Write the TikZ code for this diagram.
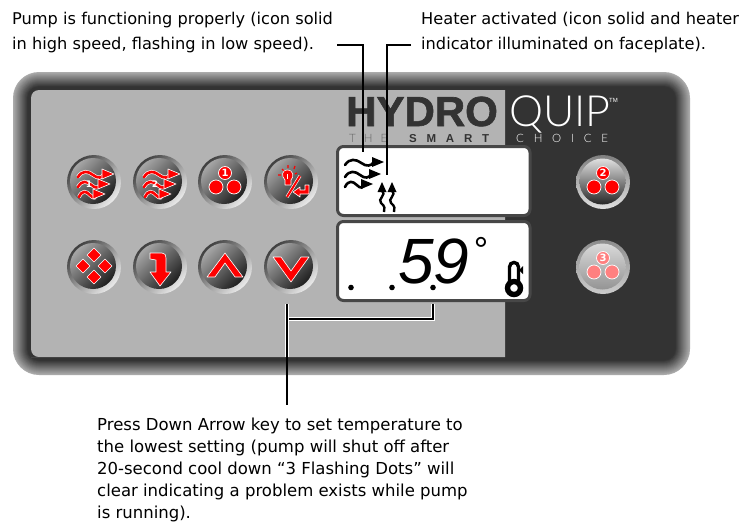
\documentclass[tikz,border=0pt]{standalone}
\usepackage{fontspec}
\setmainfont{DejaVu Sans}
\newfontfamily\logofont{Liberation Sans}
\newfontfamily\thinfont{Lato Light}
\newfontfamily\lcdfont{Liberation Sans}
\definecolor{paneldark}{HTML}{333333}
\definecolor{panelgrey}{HTML}{B3B3B3}
\definecolor{bandgrey}{HTML}{ABABAB}
\definecolor{iconred}{HTML}{FF0000}
\definecolor{iconpale}{HTML}{FF8080}
\tikzset{
  caption/.style={inner sep=0pt, anchor=north west, align=left, font=\fontsize{16.2}{22}\selectfont},
  callout/.style={draw=black, line width=2.8},
  calloutlit/.style={callout, preaction={draw=white, line width=4.4}},
  lcdbox/.style={draw=paneldark!90!white, fill=white, line width=3, rounded corners=6},
  btnring/.style={circle, inner sep=0pt, minimum size=54, shading=axis, top color=black!75, bottom color=black!8, shading angle=45},
  btnface/.style={circle, inner sep=0pt, minimum size=46, shading=axis, top color=black!35, middle color=black!35, bottom color=black!88, shading angle=45},
  redicon/.style={fill=iconred, draw=white, line width=.6, line join=round},
  wavestroke/.style={draw=black, line width=2.6, line cap=round},
  wavehead/.style={fill=black},
}
\newcommand{\wavearrow}[3]{%
  \path[wavestroke] (#1,#2+3) .. controls ({#1+.12*#3},#2-4) and ({#1+.28*#3},#2-3) .. ({#1+.42*#3},#2+1)
    .. controls ({#1+.55*#3},#2+5) and ({#1+.68*#3},#2+4) .. ({#1+#3-10},#2);
  \path[wavehead] ({#1+#3-12},#2-5) -- ({#1+#3},#2) -- ({#1+#3-12},#2+5) -- cycle;
}
\newcommand{\threedots}[3]{%
  \fill[#2, draw=white, line width=.7] (0,-9) circle (6.5);
  \fill[#2, draw=white, line width=.7] (-9,5) circle (7);
  \fill[#2, draw=white, line width=.7] (9,5) circle (7);
  \node[inner sep=0pt, text=#3, font=\fontsize{10}{10}\selectfont\bfseries] at (0,-9) {#1};
}
\begin{document}
\begin{tikzpicture}[x=1pt, y=-1pt]
  \useasboundingbox (0,0) rectangle (745,523);
  % panel edge
  \foreach \i in {0,...,14} {
    \pgfmathsetmacro{\pct}{100-7*\i}
    \pgfmathsetmacro{\rad}{26-\i}
    \fill[bandgrey!\pct!paneldark, rounded corners=\rad] (13+\i,72+\i) rectangle (690-\i,375-\i);
  }
  \fill[paneldark, rounded corners=12] (28,87) rectangle (675,360);
  \fill[panelgrey] (505,90) -- (39,90) [rounded corners=8] -- (31,90) -- (31,357) -- (39,357) [sharp corners] -- (505,357) -- cycle;
  % logo
  \node[inner sep=0pt, anchor=base west, text=paneldark, font=\logofont\fontsize{42}{42}\selectfont\bfseries\addfontfeature{FakeBold=1.5}] (logobold) at (346,126) {HYDRO};
  \node[inner sep=0pt, anchor=base west, text=white, font=\thinfont\fontsize{43}{43}\selectfont] (logothin) at (509,126) {QUIP};
  \node[inner sep=0pt, anchor=base west, text=white, font=\logofont\fontsize{6}{6}\selectfont] (logotm) at (609,102) {TM};
  \node[inner sep=0pt, anchor=base west, text=black!60, font=\thinfont\fontsize{11.5}{12}\selectfont\addfontfeature{LetterSpace=70}] (sloganone) at (349,142) {THE};
  \node[inner sep=0pt, anchor=base west, text=paneldark, font=\logofont\fontsize{11.5}{12}\selectfont\bfseries\addfontfeature{LetterSpace=85}] (slogantwo) at (409,142) {SMART};
  \node[inner sep=0pt, anchor=base west, text=white, font=\thinfont\fontsize{11.5}{12}\selectfont\addfontfeature{LetterSpace=85}] (sloganthree) at (516,142) {CHOICE};
  % displays
  \path[lcdbox] (337.5,146.5) rectangle (530,215.5);
  \path[lcdbox] (337.5,221.5) rectangle (530,300.5);
  \coordinate (pumpicon) at (363,152);
  \coordinate (heaticon) at (387,175);
  \wavearrow{345}{162}{39}
  \wavearrow{345}{174}{36}
  \wavearrow{345}{184}{28}
  \foreach \x in {382,392} {
    \fill (\x,182) -- (\x+4.5,192) -- (\x-4.5,192) -- cycle;
    \draw[line width=2.4] (\x,191) .. controls (\x+5,195) and (\x-5,199) .. (\x-1,203) .. controls (\x+3,206) and (\x+3,209) .. (\x+2,212);
  }
  \node[inner sep=0pt, anchor=base west, font=\lcdfont\itshape\fontsize{64}{64}\selectfont] (lcdtemp) at (398,283) {59};
  \node[inner sep=0pt, anchor=base, font=\lcdfont\fontsize{36}{36}\selectfont] (lcddegree) at (481,262) {°};
  \foreach \x in {351,392,433} \fill (\x,287.5) circle (2.8);
  \draw[line width=3.4] (509.5,282) -- (509.5,267) .. controls (509.5,261) and (518.5,261) .. (518.5,267) -- (518.5,282);
  \draw[line width=5.4] (514,288) circle (6.5);
  \fill (519,270) -- (523,266) -- (523,274) -- cycle;
  % keys
  \foreach \name/\x/\y in {pumpone/94/182, pumptwo/160/182, auxone/225/182, lightkey/291/182,
                           modekey/94/267, menukey/160/267, upkey/225/267, downkey/291/267} {
    \node[btnring] (\name) at (\x,\y) {};
    \node[btnface] (\name face) at (\x-1,\y-1) {};
  }
  \node[btnring, top color=black!50, bottom color=black!12] (auxtwo) at (603,182) {};
  \node[btnface, top color=black!12, middle color=black!40, bottom color=black!85] (auxtwo face) at (602.5,181.5) {};
  \node[btnring, top color=black!45, bottom color=black!20] (auxthree) at (603,267) {};
  \node[btnface, top color=black!15, middle color=black!28, bottom color=black!42] (auxthree face) at (602.5,266.5) {};
  % key icons
  \begin{scope}[wavestroke/.style={draw=iconred, line width=2.6, line cap=round, preaction={draw=white, line width=3.8}},
                wavehead/.style={redicon}]
    \foreach \name/\num in {pumpone/1, pumptwo/2} {
      \begin{scope}[shift={(\name)}]
        \wavearrow{-16}{-8}{36}
        \wavearrow{-16}{2}{32}
        \wavearrow{-15}{12}{26}
        \node[inner sep=0pt, text=white, font=\fontsize{9}{9}\selectfont\bfseries] (\name num) at (-5,2) {\num};
      \end{scope}
    }
  \end{scope}
  \begin{scope}[shift={(auxone)}]
    \threedots{1}{iconred}{white}
  \end{scope}
  \begin{scope}[shift={(auxtwo)}]
    \threedots{2}{iconred}{white}
  \end{scope}
  \begin{scope}[shift={(auxthree)}]
    \threedots{3}{iconpale}{white}
  \end{scope}
  \begin{scope}[shift={(lightkey)}]
    \draw[iconred, line width=1.2] (-9,-13) -- (-7,-11) (-3,-17) -- (-3,-14) (4,-16) -- (3,-13) (-13,-7) -- (-10,-7) (6,-9) -- (4,-8);
    \fill[redicon] (-4,-12) .. controls (3,-12) and (3,-5) .. (0,-2) -- (0,3) -- (-6,3) -- (-6,-2) .. controls (-10,-6) and (-9,-12) .. (-4,-12) -- cycle;
    \draw[white, line width=1] (-4,-8) -- (-4,-3);
    \draw[white, line width=3.2] (-4,15) -- (9,-6);
    \draw[iconred, line width=2] (-4,15) -- (9,-6);
    \fill[redicon] (2,10) -- (9,5) -- (9,8) -- (14,8) -- (14,3) -- (18,3) -- (18,12) -- (9,12) -- (9,15) -- cycle;
  \end{scope}
  \foreach \dx/\dy in {0/-12, -11/-1, 11/-1, 0/10}
    \fill[redicon, shift={(modekey)}] (\dx,\dy-7) -- (\dx+7,\dy) -- (\dx,\dy+7) -- (\dx-7,\dy) -- cycle;
  \fill[redicon, shift={(menukey)}] (-10,-14) -- (2,-14) .. controls (5,-14) and (6,-12) .. (6,-9) -- (6,5) -- (11,5) -- (0,19) -- (-10,5) -- (-4,5) -- (-4,-7) -- (-10,-8) -- cycle;
  \fill[redicon, shift={(upkey)}] (-18,10) -- (0,-14) -- (18,10) -- (10,10) -- (0,-4) -- (-10,10) -- cycle;
  \fill[redicon, shift={(downkey)}] (-18,-10) -- (0,15) -- (18,-10) -- (10,-10) -- (0,4) -- (-10,-10) -- cycle;
  % captions
  \node[caption] (pumpnote) at (12,12) {Pump is functioning properly (icon solid\\[2.5pt]in high speed, flashing in low speed).};
  \node[caption] (heaternote) at (421,12) {Heater activated (icon solid and heater\\[2.5pt]indicator illuminated on faceplate).};
  \node[caption, font=\fontsize{16.5}{22}\selectfont] (downnote) at (97,418) {Press Down Arrow key to set temperature to\\the lowest setting (pump will shut off after\\20-second cool down “3 Flashing Dots” will\\clear indicating a problem exists while pump\\is running).};
  % callouts
  \coordinate (pumpstart) at (337,45);
  \coordinate (heaterstart) at (411,45);
  \coordinate (downtop) at (287,304);
  \coordinate (downbottom) at (287,405);
  \coordinate (dotbase) at (433,304);
  \draw[callout] (pumpstart) -| (pumpicon);
  \draw[callout] (heaterstart) -| (heaticon);
  \draw[calloutlit] (dotbase) |- (287,319);
  \draw[calloutlit] (downtop) -- (287,357);
  \draw[callout] (downtop) -- (downbottom);
\end{tikzpicture}
\end{document}
